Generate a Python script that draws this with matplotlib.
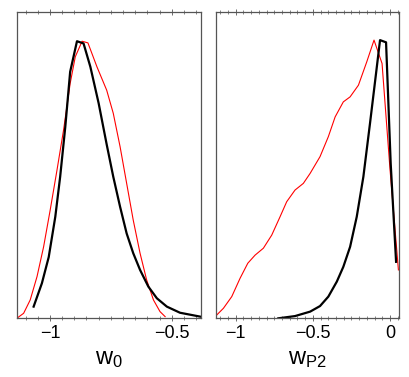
import matplotlib
matplotlib.use("Agg")
import matplotlib.pyplot as plt
from matplotlib.ticker import MultipleLocator

plt.rcParams['font.family'] = ['Liberation Sans', 'DejaVu Sans']
plt.rcParams['mathtext.fontset'] = 'custom'
plt.rcParams['mathtext.rm'] = 'Liberation Sans'
plt.rcParams['mathtext.default'] = 'regular'

# ====== Data (normalised posteriors) ======
w0_black_x = [-1.067, -1.033, -1.005, -0.978, -0.958, -0.937, -0.917, -0.889, -0.862,
              -0.834, -0.80, -0.767, -0.74, -0.712, -0.685, -0.658, -0.63, -0.596,
              -0.561, -0.52, -0.466, -0.383]
w0_black_y = [0.042, 0.126, 0.22, 0.365, 0.509, 0.688, 0.886, 0.996, 0.988,
              0.904, 0.773, 0.625, 0.509, 0.401, 0.305, 0.234, 0.174, 0.114,
              0.072, 0.042, 0.020, 0.006]

w0_red_x = [-1.136, -1.108, -1.081, -1.053, -1.026, -0.999, -0.971, -0.944, -0.917, -0.896,
            -0.868, -0.844, -0.807, -0.767, -0.74, -0.712, -0.685, -0.658, -0.63, -0.603,
            -0.575, -0.548, -0.527]
w0_red_y = [0.0, 0.018, 0.066, 0.15, 0.257, 0.389, 0.533, 0.677, 0.844, 0.94,
            0.996, 0.99, 0.904, 0.82, 0.737, 0.617, 0.485, 0.353, 0.234, 0.138,
            0.066, 0.024, 0.006]

wp2_black_x = [-0.724, -0.616, -0.518, -0.454, -0.40, -0.345, -0.303, -0.259, -0.216,
               -0.173, -0.13, -0.091, -0.065, -0.026, 0.004, 0.039]
wp2_black_y = [0.0, 0.008, 0.024, 0.044, 0.078, 0.132, 0.185, 0.257, 0.365,
               0.509, 0.701, 0.88, 1.0, 0.992, 0.557, 0.203]

wp2_red_x = [-1.134, -1.08, -1.026, -0.972, -0.922, -0.875, -0.821, -0.767, -0.713, -0.67,
             -0.616, -0.562, -0.518, -0.454, -0.40, -0.356, -0.303, -0.259, -0.205, -0.151,
             -0.104, -0.052, 0.0, 0.054]
wp2_red_y = [0.006, 0.036, 0.078, 0.144, 0.198, 0.227, 0.252, 0.299, 0.365, 0.419,
             0.461, 0.485, 0.521, 0.581, 0.653, 0.724, 0.778, 0.796, 0.838, 0.922,
             1.0, 0.916, 0.533, 0.174]

fig = plt.figure(figsize=(4.09, 3.77), dpi=100)
ax1 = fig.add_axes([0.0423, 0.1557, 0.4484, 0.8117])
ax2 = fig.add_axes([0.5274, 0.1557, 0.4482, 0.8117])

panels = [
    (ax1, w0_red_x, w0_red_y, w0_black_x, w0_black_y, (-1.134, -0.381), [-1, -0.5], r'$w_0$'),
    (ax2, wp2_red_x, wp2_red_y, wp2_black_x, wp2_black_y, (-1.13, 0.058), [-1, -0.5, 0], r'$w_{P2}$'),
]

for ax, rx, ry, bx, by, xlim, ticks, label in panels:
    ax.plot(rx, ry, color='red', lw=0.8)
    ax.plot(bx, by, color='black', lw=1.6)
    ax.set_xlim(*xlim)
    ax.set_ylim(0, 1.1)
    ax.set_xticks(ticks)
    ax.set_xticklabels(['0' if t == 0 else ('\u22121' if t == -1 else '\u22120.5') for t in ticks])
    ax.xaxis.set_minor_locator(MultipleLocator(0.05))
    ax.set_yticks([])
    ax.tick_params(axis='x', which='both', top=True, bottom=True, direction='inout',
                   labelsize=13, pad=3, color='#555555')
    ax.tick_params(axis='x', which='major', length=4, width=0.6)
    ax.tick_params(axis='x', which='minor', length=2.5, width=0.5)
    for sp in ax.spines.values():
        sp.set_color('#555555')
        sp.set_linewidth(0.9)
    ax.set_xlabel(label, fontsize=17, labelpad=4)

fig.savefig('out.png', dpi=100)
